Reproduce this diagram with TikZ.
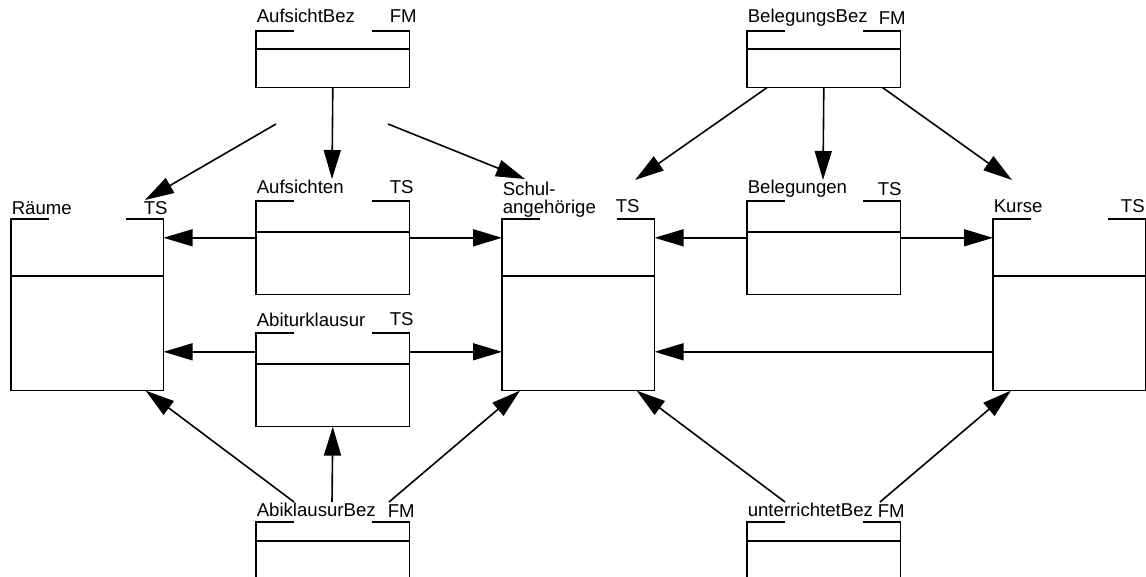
\documentclass[tikz,border=0pt]{standalone}
\usepackage{fontspec}
\setmainfont{Liberation Sans}
\usetikzlibrary{arrows.meta,calc}

\tikzset{
  relation/.style={anchor=north west, inner sep=0pt, minimum width=75.5pt, minimum height=85pt},
  beziehung/.style={anchor=north west, inner sep=0pt, minimum width=76pt, minimum height=46pt},
  bez/.style={anchor=north west, inner sep=0pt, minimum width=76pt, minimum height=27.5pt},
  beschriftung/.style={anchor=base west, inner sep=0pt},
  pfeil/.style={-{Triangle[length=14.5pt,width=8.5pt]}},
}

\begin{document}
\begin{tikzpicture}[x=0.5pt,y=-0.5pt,line width=0.8pt,font=\fontsize{9.3pt}{9.2pt}\selectfont]
    \useasboundingbox (0,0) rectangle (1146,577);

    \node (raeume-box) at (11,219) [relation] {};
    \node (schul-box) at (502,219) [relation] {};
    \node (kurse-box) at (993,219) [relation] {};

    \node (aufsichten-box) at (256,201) [beziehung] {};
    \node (abitur-box) at (256,333) [beziehung] {};
    \node (belegungen-box) at (747,201) [beziehung] {};

    \node (aufsichtbez-box) at (256,31) [bez] {};
    \node (belegungsbez-box) at (747,31) [bez] {};
    \node (abibez-box) at (256,522) [bez, minimum height=32pt] {};
    \node (unterrichtbez-box) at (747,522) [bez, minimum height=32pt] {};

    \node (raeume-label) at (11,215) [beschriftung] {Räume};
    \node (raeume-tag) at (143,215) [beschriftung] {TS};
    \node (schul-label) at (502,181) [anchor=north west, inner sep=0pt, align=left] {Schul-\\angehörige};
    \node (schul-tag) at (615,213) [beschriftung] {TS};
    \node (kurse-label) at (993,213) [beschriftung] {Kurse};
    \node (kurse-tag) at (1145.5,213) [beschriftung, anchor=base east] {TS};

    \node (aufsichten-label) at (256,194) [beschriftung] {Aufsichten};
    \node (aufsichten-tag) at (389,194) [beschriftung] {TS};
    \node (abitur-label) at (256,327) [beschriftung] {Abiturklausur};
    \node (abitur-tag) at (389,326) [beschriftung] {TS};
    \node (belegungen-label) at (747,194) [beschriftung] {Belegungen};
    \node (belegungen-tag) at (877,196) [beschriftung] {TS};

    \node (aufsichtbez-label) at (256,23) [beschriftung] {AufsichtBez};
    \node (aufsichtbez-tag) at (389,23) [beschriftung] {FM};
    \node (belegungsbez-label) at (747,23) [beschriftung] {BelegungsBez};
    \node (belegungsbez-tag) at (878,25) [beschriftung] {FM};
    \node (abibez-label) at (256,516) [beschriftung] {AbiklausurBez};
    \node (abibez-tag) at (387,517) [beschriftung] {FM};
    \node (unterrichtbez-label) at (747,516) [beschriftung] {unterrichtetBez};
    \node (unterrichtbez-tag) at (877,517) [beschriftung] {FM};

    % outlines with tabs and middle line
    \foreach \t/\m in {raeume/57,schul/57,kurse/57,aufsichten/31,abitur/31,belegungen/31,aufsichtbez/18,belegungsbez/18,abibez/19,unterrichtbez/19} {
      \draw ($(\t-box.north west)+(38,0)$) -- (\t-box.north west) -- (\t-box.south west)
            -- (\t-box.south east) -- (\t-box.north east) -- ($(\t-box.north east)+(-38,0)$);
      \draw ($(\t-box.north west)+(0,\m)$) -- ($(\t-box.north east)+(0,\m)$);
    }

    \coordinate (aufsichtbez-links) at (276,124);
    \coordinate (aufsichtbez-rechts) at (388,124);
    \coordinate (raeume-oben) at (145,200);
    \coordinate (aufsichten-oben) at (332,179);
    \coordinate (schul-oben-links) at (525,179);
    \coordinate (schul-oben-rechts) at (635,180);
    \coordinate (belegungen-oben) at (823,180);
    \coordinate (kurse-oben) at (1012,180);
    \coordinate (abibez-links) at (294,502);
    \coordinate (abibez-mitte) at (332,502);
    \coordinate (abibez-rechts) at (389,502);
    \coordinate (unterrichtbez-links) at (785,502);
    \coordinate (unterrichtbez-rechts) at (880,502);

    \draw [pfeil] (aufsichtbez-links) -- (raeume-oben);
    \draw [pfeil] (aufsichtbez-box.south) -- (aufsichten-oben);
    \draw [pfeil] (aufsichtbez-rechts) -- (schul-oben-links);

    \draw [pfeil] ($(belegungsbez-box.south west)+(20,0)$) -- (schul-oben-rechts);
    \draw [pfeil] (belegungsbez-box.south) -- (belegungen-oben);
    \draw [pfeil] ($(belegungsbez-box.south east)+(-18,0)$) -- (kurse-oben);

    \draw [pfeil] ([yshift=5pt]aufsichten-box.west) -- ([yshift=5pt]aufsichten-box.west -| raeume-box.east);
    \draw [pfeil] ([yshift=5pt]aufsichten-box.east) -- ([yshift=5pt]aufsichten-box.east -| schul-box.west);
    \draw [pfeil] ([yshift=14pt]abitur-box.west) -- ([yshift=14pt]abitur-box.west -| raeume-box.east);
    \draw [pfeil] ([yshift=14pt]abitur-box.east) -- ([yshift=14pt]abitur-box.east -| schul-box.west);
    \draw [pfeil] ([yshift=5pt]belegungen-box.west) -- ([yshift=5pt]belegungen-box.west -| schul-box.east);
    \draw [pfeil] ([yshift=5pt]belegungen-box.east) -- ([yshift=5pt]belegungen-box.east -| kurse-box.west);
    \draw [pfeil] ([yshift=-23.5pt]kurse-box.west) -- ([yshift=-23.5pt]kurse-box.west -| schul-box.east);

    \draw [pfeil] (abibez-links) -- ($(raeume-box.south east)+(-18,0)$);
    \draw [pfeil] (abibez-mitte) -- (abitur-box.south);
    \draw [pfeil] (abibez-rechts) -- ($(schul-box.south west)+(18,0)$);
    \draw [pfeil] (unterrichtbez-links) -- ($(schul-box.south east)+(-18,0)$);
    \draw [pfeil] (unterrichtbez-rechts) -- ($(kurse-box.south west)+(18,0)$);
  \end{tikzpicture}
\end{document}
